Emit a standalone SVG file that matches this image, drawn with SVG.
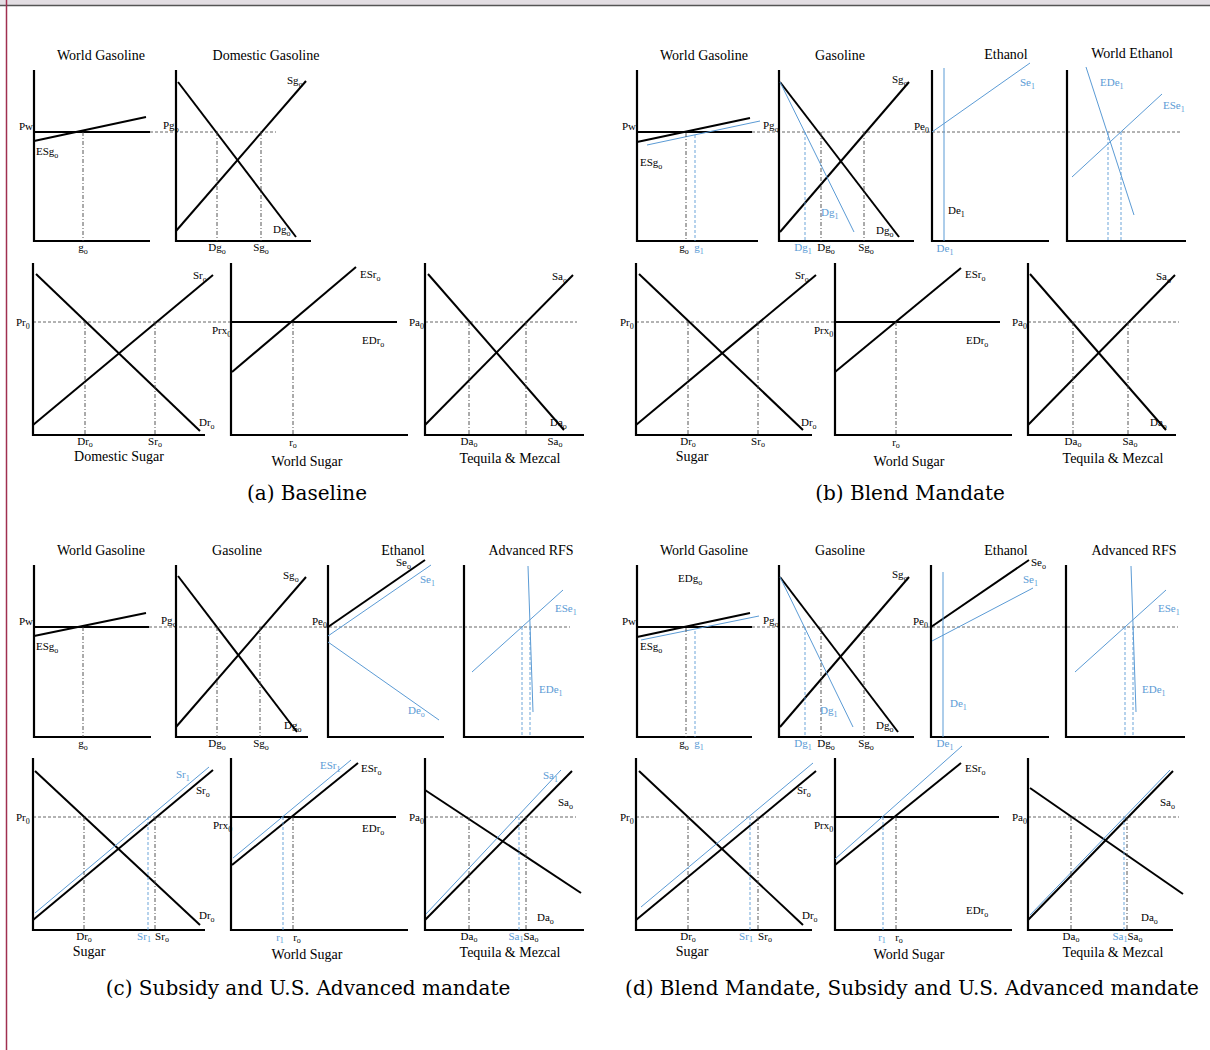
<svg xmlns="http://www.w3.org/2000/svg" width="1210" height="1050" viewBox="0 0 1210 1050">
<style>
.ax{fill:none;stroke:#000;stroke-width:2.2}
.k{fill:none;stroke:#000;stroke-width:2}
.b{fill:none;stroke:#5b9bd5;stroke-width:1}
.hd{fill:none;stroke:#555;stroke-width:0.9;stroke-dasharray:3 2}
.vd{fill:none;stroke:#444;stroke-width:0.9;stroke-dasharray:4 2 1 2}
.bd{fill:none;stroke:#5b9bd5;stroke-width:0.9;stroke-dasharray:3 2}
text{font-family:"Liberation Serif","Times New Roman",serif;fill:#000}
.t{font-size:14px;text-anchor:middle}
.l{font-size:11px}
.c{text-anchor:middle}
.bl{fill:#5b9bd5}
.s{font-size:8px}
.cap{font-family:"DejaVu Serif",serif;font-size:20px;text-anchor:middle}
</style>
<rect x="0" y="0" width="1210" height="1050" fill="#fff"/>
<g id="frame">
<rect x="0" y="0" width="1210" height="5" fill="#e3dee3"/>
<line x1="0" y1="5.5" x2="1210" y2="5.5" stroke="#555" stroke-width="1.6"/>
<line x1="6.5" y1="0" x2="6.5" y2="1050" stroke="#a03050" stroke-width="1.5"/>
</g>

<!-- ===== Panel (a) ===== -->
<g id="a-world-gasoline">
<text class="t" x="101" y="60">World Gasoline</text>
<path class="ax" d="M34,70V241H150"/>
<path class="k" d="M34,132H150"/>
<path class="k" d="M34,141L146,117"/>
<path class="vd" d="M83,132V241"/>
<text class="l" x="19" y="130">Pw</text>
<text class="l" x="36" y="155">ESg<tspan class="s" dy="3">o</tspan></text>
<text class="l c" x="83" y="251">g<tspan class="s" dy="3">o</tspan></text>
</g>
<g id="a-domestic-gasoline">
<text class="t" x="266" y="60">Domestic Gasoline</text>
<path class="hd" d="M150,132H276"/>
<path class="ax" d="M176,70V241H311"/>
<path class="k" d="M178,82L296,237"/>
<path class="k" d="M176,231L306,81"/>
<path class="vd" d="M217,132V241M261,132V241"/>
<text class="l" x="163" y="129">Pg<tspan class="s" dy="3">o</tspan></text>
<text class="l" x="287" y="84">Sg<tspan class="s" dy="3">o</tspan></text>
<text class="l" x="273" y="233">Dg<tspan class="s" dy="3">o</tspan></text>
<text class="l c" x="217" y="251">Dg<tspan class="s" dy="3">o</tspan></text>
<text class="l c" x="261" y="251">Sg<tspan class="s" dy="3">o</tspan></text>
</g>
<g id="a-domestic-sugar">
<path class="hd" d="M33,322H231"/>
<path class="ax" d="M33,263V435H205"/>
<path class="k" d="M36,274L200,431"/>
<path class="k" d="M33,425L213,275"/>
<path class="vd" d="M85,322V435M155,322V435"/>
<text class="l" x="16" y="326">Pr<tspan class="s" dy="3">0</tspan></text>
<text class="l" x="193" y="279">Sr<tspan class="s" dy="3">o</tspan></text>
<text class="l" x="199" y="426">Dr<tspan class="s" dy="3">o</tspan></text>
<text class="l c" x="85" y="445">Dr<tspan class="s" dy="2">o</tspan></text>
<text class="l c" x="155" y="445">Sr<tspan class="s" dy="2">o</tspan></text>
<text class="t" x="119" y="461">Domestic Sugar</text>
</g>
<g id="a-world-sugar">
<path class="ax" d="M231,263V435H408"/>
<path class="k" d="M231,322H397"/>
<path class="k" d="M232,372L356,267"/>
<path class="vd" d="M293,322V435"/>
<text class="l" x="212" y="334">Prx<tspan class="s" dy="3">0</tspan></text>
<text class="l" x="360" y="278">ESr<tspan class="s" dy="3">o</tspan></text>
<text class="l" x="362" y="344">EDr<tspan class="s" dy="3">o</tspan></text>
<text class="l c" x="293" y="446">r<tspan class="s" dy="2">o</tspan></text>
<text class="t" x="307" y="466">World Sugar</text>
</g>
<g id="a-tequila">
<path class="hd" d="M425,322H577"/>
<path class="ax" d="M425,263V435H584"/>
<path class="k" d="M428,274L564,430"/>
<path class="k" d="M425,425L573,275"/>
<path class="vd" d="M469,322V435M526,322V435"/>
<text class="l" x="409" y="326">Pa<tspan class="s" dy="3">0</tspan></text>
<text class="l" x="552" y="280">Sa<tspan class="s" dy="3">o</tspan></text>
<text class="l" x="550" y="426">Da<tspan class="s" dy="3">o</tspan></text>
<text class="l c" x="469" y="445">Da<tspan class="s" dy="2">o</tspan></text>
<text class="l c" x="555" y="445">Sa<tspan class="s" dy="2">o</tspan></text>
<text class="t" x="510" y="463">Tequila &amp; Mezcal</text>
</g>
<text class="cap" x="307" y="500">(a) Baseline</text>

<!-- ===== Panel (b) ===== -->
<g id="b-world-gasoline">
<text class="t" x="704" y="60">World Gasoline</text>
<path class="ax" d="M637,70V241H758"/>
<path class="k" d="M637,132H752"/>
<path class="k" d="M637,142L750,118"/>
<path class="b" d="M647,145L760,121"/>
<path class="vd" d="M686,133V241"/>
<path class="bd" d="M695,135V241"/>
<text class="l" x="622" y="130">Pw</text>
<text class="l" x="640" y="166">ESg<tspan class="s" dy="3">o</tspan></text>
<text class="l c" x="684" y="251">g<tspan class="s" dy="3">o</tspan></text>
<text class="l c bl" x="699" y="251">g<tspan class="s" dy="3">1</tspan></text>
</g>
<g id="b-gasoline">
<text class="t" x="840" y="60">Gasoline</text>
<path class="hd" d="M752,132H1180"/>
<path class="ax" d="M779,70V241H914"/>
<path class="k" d="M780,232L909,82"/>
<path class="k" d="M780,82L899,237"/>
<path class="b" d="M780,82L854,232"/>
<path class="bd" d="M805,132V241"/>
<path class="vd" d="M821,132V241M864,132V241"/>
<text class="l" x="763" y="129">Pg<tspan class="s" dy="3">o</tspan></text>
<text class="l" x="892" y="83">Sg<tspan class="s" dy="3">o</tspan></text>
<text class="l bl" x="821" y="216">Dg<tspan class="s" dy="3">1</tspan></text>
<text class="l" x="876" y="234">Dg<tspan class="s" dy="3">o</tspan></text>
<text class="l c bl" x="803" y="251">Dg<tspan class="s" dy="3">1</tspan></text>
<text class="l c" x="826" y="251">Dg<tspan class="s" dy="3">o</tspan></text>
<text class="l c" x="866" y="251">Sg<tspan class="s" dy="3">o</tspan></text>
</g>
<g id="b-ethanol">
<text class="t" x="1006" y="59">Ethanol</text>
<path class="ax" d="M932,70V241H1049"/>
<path class="b" d="M932,132L1030,63"/>
<path class="b" d="M944,68V241"/>
<text class="l" x="914" y="130">Pe<tspan class="s" dy="3">0</tspan></text>
<text class="l bl" x="1020" y="86">Se<tspan class="s" dy="3">1</tspan></text>
<text class="l" x="948" y="214">De<tspan class="s" dy="3">1</tspan></text>
<text class="l c bl" x="945" y="252">De<tspan class="s" dy="3">1</tspan></text>
</g>
<g id="b-world-ethanol">
<text class="t" x="1132" y="58">World Ethanol</text>
<path class="ax" d="M1067,70V241H1186"/>
<path class="b" d="M1086,67L1134,215"/>
<path class="b" d="M1072,177L1162,94"/>
<path class="bd" d="M1108,132V241M1121,132V241"/>
<text class="l bl" x="1100" y="86">EDe<tspan class="s" dy="3">1</tspan></text>
<text class="l bl" x="1163" y="109">ESe<tspan class="s" dy="3">1</tspan></text>
</g>
<g id="b-sugar">
<path class="hd" d="M636,322H834"/>
<path class="ax" d="M636,263V435H812"/>
<path class="k" d="M639,274L803,430"/>
<path class="k" d="M636,425L816,275"/>
<path class="vd" d="M688,322V435M758,322V435"/>
<text class="l" x="620" y="326">Pr<tspan class="s" dy="3">0</tspan></text>
<text class="l" x="795" y="279">Sr<tspan class="s" dy="3">o</tspan></text>
<text class="l" x="801" y="426">Dr<tspan class="s" dy="3">o</tspan></text>
<text class="l c" x="688" y="445">Dr<tspan class="s" dy="2">o</tspan></text>
<text class="l c" x="758" y="445">Sr<tspan class="s" dy="2">o</tspan></text>
<text class="t" x="692" y="461">Sugar</text>
</g>
<g id="b-world-sugar">
<path class="ax" d="M835,263V435H1012"/>
<path class="k" d="M835,322H1000"/>
<path class="k" d="M835,372L961,268"/>
<path class="vd" d="M896,322V435"/>
<text class="l" x="814" y="334">Prx<tspan class="s" dy="3">0</tspan></text>
<text class="l" x="965" y="278">ESr<tspan class="s" dy="3">o</tspan></text>
<text class="l" x="966" y="344">EDr<tspan class="s" dy="3">o</tspan></text>
<text class="l c" x="896" y="446">r<tspan class="s" dy="2">o</tspan></text>
<text class="t" x="909" y="466">World Sugar</text>
</g>
<g id="b-tequila">
<path class="hd" d="M1028,322H1179"/>
<path class="ax" d="M1028,263V435H1176"/>
<path class="k" d="M1030,274L1166,430"/>
<path class="k" d="M1028,425L1175,275"/>
<path class="vd" d="M1073,322V435M1128,322V435"/>
<text class="l" x="1012" y="326">Pa<tspan class="s" dy="3">0</tspan></text>
<text class="l" x="1156" y="280">Sa<tspan class="s" dy="3">o</tspan></text>
<text class="l" x="1150" y="426">Da<tspan class="s" dy="3">o</tspan></text>
<text class="l c" x="1073" y="445">Da<tspan class="s" dy="2">o</tspan></text>
<text class="l c" x="1130" y="445">Sa<tspan class="s" dy="2">o</tspan></text>
<text class="t" x="1113" y="463">Tequila &amp; Mezcal</text>
</g>
<text class="cap" x="910" y="500">(b) Blend Mandate</text>

<!-- ===== Panel (c) ===== -->
<g id="c-world-gasoline">
<text class="t" x="101" y="555">World Gasoline</text>
<path class="ax" d="M34,565V737H151"/>
<path class="k" d="M34,627H149"/>
<path class="k" d="M34,636L146,613"/>
<path class="vd" d="M83,627V737"/>
<text class="l" x="19" y="625">Pw</text>
<text class="l" x="36" y="650">ESg<tspan class="s" dy="3">o</tspan></text>
<text class="l c" x="83" y="747">g<tspan class="s" dy="3">o</tspan></text>
</g>
<g id="c-gasoline">
<text class="t" x="237" y="555">Gasoline</text>
<path class="hd" d="M149,627H570"/>
<path class="ax" d="M176,565V737H308"/>
<path class="k" d="M176,727L306,577"/>
<path class="k" d="M178,576L297,732"/>
<path class="vd" d="M217,627V737M260,627V737"/>
<text class="l" x="161" y="624">Pg<tspan class="s" dy="3">o</tspan></text>
<text class="l" x="283" y="579">Sg<tspan class="s" dy="3">o</tspan></text>
<text class="l" x="284" y="729">Dg<tspan class="s" dy="3">o</tspan></text>
<text class="l c" x="217" y="747">Dg<tspan class="s" dy="3">o</tspan></text>
<text class="l c" x="261" y="747">Sg<tspan class="s" dy="3">o</tspan></text>
</g>
<g id="c-ethanol">
<text class="t" x="403" y="555">Ethanol</text>
<path class="ax" d="M328,565V737H444"/>
<path class="k" d="M328,627L425,560"/>
<path class="b" d="M328,636L431,565"/>
<path class="b" d="M328,642L439,720"/>
<text class="l" x="312" y="625">Pe<tspan class="s" dy="3">0</tspan></text>
<text class="l" x="396" y="566">Se<tspan class="s" dy="3">o</tspan></text>
<text class="l bl" x="420" y="583">Se<tspan class="s" dy="3">1</tspan></text>
<text class="l bl" x="408" y="714">De<tspan class="s" dy="3">o</tspan></text>
</g>
<g id="c-advanced-rfs">
<text class="t" x="531" y="555">Advanced RFS</text>
<path class="ax" d="M464,565V737H584"/>
<path class="b" d="M472,672L563,590"/>
<path class="b" d="M528,566L533,712"/>
<path class="bd" d="M522,627V737M530,627V737"/>
<text class="l bl" x="555" y="612">ESe<tspan class="s" dy="3">1</tspan></text>
<text class="l bl" x="539" y="693">EDe<tspan class="s" dy="3">1</tspan></text>
</g>
<g id="c-sugar">
<path class="hd" d="M33,817H231"/>
<path class="ax" d="M33,758V930H205"/>
<path class="k" d="M35,771L200,925"/>
<path class="k" d="M33,920L213,770"/>
<path class="b" d="M35,913L209,767"/>
<path class="vd" d="M84,817V930M155,817V930"/>
<path class="bd" d="M148,817V930"/>
<text class="l" x="16" y="821">Pr<tspan class="s" dy="3">0</tspan></text>
<text class="l bl" x="176" y="778">Sr<tspan class="s" dy="3">1</tspan></text>
<text class="l" x="196" y="794">Sr<tspan class="s" dy="3">o</tspan></text>
<text class="l" x="199" y="919">Dr<tspan class="s" dy="3">o</tspan></text>
<text class="l c" x="84" y="940">Dr<tspan class="s" dy="2">o</tspan></text>
<text class="l c bl" x="144" y="940">Sr<tspan class="s" dy="2">1</tspan></text>
<text class="l c" x="162" y="940">Sr<tspan class="s" dy="2">o</tspan></text>
<text class="t" x="89" y="956">Sugar</text>
</g>
<g id="c-world-sugar">
<path class="ax" d="M231,758V930H408"/>
<path class="k" d="M231,817H396"/>
<path class="k" d="M232,865L358,763"/>
<path class="b" d="M233,858L351,760"/>
<path class="vd" d="M293,817V930"/>
<path class="bd" d="M283,817V930"/>
<text class="l" x="213" y="829">Prx<tspan class="s" dy="3">0</tspan></text>
<text class="l bl" x="320" y="769">ESr<tspan class="s" dy="3">1</tspan></text>
<text class="l" x="361" y="772">ESr<tspan class="s" dy="3">o</tspan></text>
<text class="l" x="362" y="832">EDr<tspan class="s" dy="3">o</tspan></text>
<text class="l c bl" x="280" y="941">r<tspan class="s" dy="2">1</tspan></text>
<text class="l c" x="297" y="941">r<tspan class="s" dy="2">o</tspan></text>
<text class="t" x="307" y="959">World Sugar</text>
</g>
<g id="c-tequila">
<path class="hd" d="M425,817H576"/>
<path class="ax" d="M425,758V930H584"/>
<path class="k" d="M425,790L581,893"/>
<path class="k" d="M425,920L572,771"/>
<path class="b" d="M426,914L561,770"/>
<path class="vd" d="M469,817V930M526,817V930"/>
<path class="bd" d="M519,817V930"/>
<text class="l" x="409" y="821">Pa<tspan class="s" dy="3">0</tspan></text>
<text class="l bl" x="543" y="779">Sa<tspan class="s" dy="3">1</tspan></text>
<text class="l" x="558" y="806">Sa<tspan class="s" dy="3">o</tspan></text>
<text class="l" x="537" y="921">Da<tspan class="s" dy="3">o</tspan></text>
<text class="l c" x="469" y="940">Da<tspan class="s" dy="2">o</tspan></text>
<text class="l c bl" x="516" y="940">Sa<tspan class="s" dy="2">1</tspan></text>
<text class="l c" x="531" y="940">Sa<tspan class="s" dy="2">o</tspan></text>
<text class="t" x="510" y="957">Tequila &amp; Mezcal</text>
</g>
<text class="cap" x="308" y="995">(c) Subsidy and U.S. Advanced mandate</text>

<!-- ===== Panel (d) ===== -->
<g id="d-world-gasoline">
<text class="t" x="704" y="555">World Gasoline</text>
<path class="ax" d="M637,565V737H752"/>
<path class="k" d="M637,627H752"/>
<path class="k" d="M637,637L750,613"/>
<path class="b" d="M641,640L759,616"/>
<path class="vd" d="M686,628V737"/>
<path class="bd" d="M695,631V737"/>
<text class="l" x="622" y="625">Pw</text>
<text class="l" x="678" y="582">EDg<tspan class="s" dy="3">o</tspan></text>
<text class="l" x="640" y="650">ESg<tspan class="s" dy="3">o</tspan></text>
<text class="l c" x="684" y="747">g<tspan class="s" dy="3">o</tspan></text>
<text class="l c bl" x="699" y="747">g<tspan class="s" dy="3">1</tspan></text>
</g>
<g id="d-gasoline">
<text class="t" x="840" y="555">Gasoline</text>
<path class="hd" d="M752,627H1178"/>
<path class="ax" d="M779,565V737H914"/>
<path class="k" d="M780,727L909,577"/>
<path class="k" d="M780,577L898,732"/>
<path class="b" d="M780,577L853,727"/>
<path class="bd" d="M805,627V737"/>
<path class="vd" d="M821,627V737M864,627V737"/>
<text class="l" x="763" y="624">Pg<tspan class="s" dy="3">o</tspan></text>
<text class="l" x="892" y="578">Sg<tspan class="s" dy="3">o</tspan></text>
<text class="l bl" x="820" y="714">Dg<tspan class="s" dy="3">1</tspan></text>
<text class="l" x="876" y="729">Dg<tspan class="s" dy="3">o</tspan></text>
<text class="l c bl" x="803" y="747">Dg<tspan class="s" dy="3">1</tspan></text>
<text class="l c" x="826" y="747">Dg<tspan class="s" dy="3">o</tspan></text>
<text class="l c" x="866" y="747">Sg<tspan class="s" dy="3">o</tspan></text>
</g>
<g id="d-ethanol">
<text class="t" x="1006" y="555">Ethanol</text>
<path class="ax" d="M931,565V737H1049"/>
<path class="k" d="M931,627L1029,560"/>
<path class="b" d="M932,641L1033,588"/>
<path class="b" d="M943,572V737"/>
<text class="l" x="913" y="625">Pe<tspan class="s" dy="3">0</tspan></text>
<text class="l" x="1031" y="566">Se<tspan class="s" dy="3">o</tspan></text>
<text class="l bl" x="1023" y="583">Se<tspan class="s" dy="3">1</tspan></text>
<text class="l bl" x="950" y="707">De<tspan class="s" dy="3">1</tspan></text>
<text class="l c bl" x="945" y="747">De<tspan class="s" dy="3">1</tspan></text>
</g>
<g id="d-advanced-rfs">
<text class="t" x="1134" y="555">Advanced RFS</text>
<path class="ax" d="M1066,565V737H1185"/>
<path class="b" d="M1075,672L1166,590"/>
<path class="b" d="M1131,566L1136,712"/>
<path class="bd" d="M1125,627V737M1133,627V737"/>
<text class="l bl" x="1158" y="612">ESe<tspan class="s" dy="3">1</tspan></text>
<text class="l bl" x="1142" y="693">EDe<tspan class="s" dy="3">1</tspan></text>
</g>
<g id="d-sugar">
<path class="hd" d="M636,817H834"/>
<path class="ax" d="M636,758V930H812"/>
<path class="k" d="M639,771L803,925"/>
<path class="k" d="M636,920L816,771"/>
<path class="b" d="M641,907L813,763"/>
<path class="vd" d="M688,817V930M758,817V930"/>
<path class="bd" d="M750,817V930"/>
<text class="l" x="620" y="821">Pr<tspan class="s" dy="3">0</tspan></text>
<text class="l" x="797" y="794">Sr<tspan class="s" dy="3">o</tspan></text>
<text class="l" x="802" y="919">Dr<tspan class="s" dy="3">o</tspan></text>
<text class="l c" x="688" y="940">Dr<tspan class="s" dy="2">o</tspan></text>
<text class="l c bl" x="746" y="940">Sr<tspan class="s" dy="2">1</tspan></text>
<text class="l c" x="765" y="940">Sr<tspan class="s" dy="2">o</tspan></text>
<text class="t" x="692" y="956">Sugar</text>
</g>
<g id="d-world-sugar">
<path class="ax" d="M835,758V930H1012"/>
<path class="k" d="M835,817H999"/>
<path class="k" d="M835,865L961,763"/>
<path class="b" d="M835,859L962,746"/>
<path class="vd" d="M896,817V930"/>
<path class="bd" d="M883,817V930"/>
<text class="l" x="814" y="829">Prx<tspan class="s" dy="3">0</tspan></text>
<text class="l" x="965" y="772">ESr<tspan class="s" dy="3">o</tspan></text>
<text class="l" x="966" y="914">EDr<tspan class="s" dy="3">o</tspan></text>
<text class="l c bl" x="882" y="941">r<tspan class="s" dy="2">1</tspan></text>
<text class="l c" x="899" y="941">r<tspan class="s" dy="2">o</tspan></text>
<text class="t" x="909" y="959">World Sugar</text>
</g>
<g id="d-tequila">
<path class="hd" d="M1028,817H1179"/>
<path class="ax" d="M1028,758V930H1173"/>
<path class="k" d="M1030,788L1183,894"/>
<path class="k" d="M1028,920L1173,771"/>
<path class="b" d="M1030,915L1170,770"/>
<path class="vd" d="M1071,817V930M1127,817V930"/>
<path class="bd" d="M1124,817V930"/>
<text class="l" x="1012" y="821">Pa<tspan class="s" dy="3">0</tspan></text>
<text class="l" x="1160" y="806">Sa<tspan class="s" dy="3">o</tspan></text>
<text class="l" x="1141" y="921">Da<tspan class="s" dy="3">o</tspan></text>
<text class="l c" x="1071" y="940">Da<tspan class="s" dy="2">o</tspan></text>
<text class="l c bl" x="1120" y="940">Sa<tspan class="s" dy="2">1</tspan></text>
<text class="l c" x="1135" y="940">Sa<tspan class="s" dy="2">o</tspan></text>
<text class="t" x="1113" y="957">Tequila &amp; Mezcal</text>
</g>
<text class="cap" x="912" y="995">(d) Blend Mandate, Subsidy and U.S. Advanced mandate</text>
</svg>
